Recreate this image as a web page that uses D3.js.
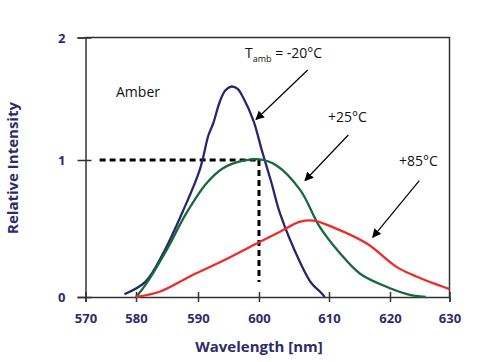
<!DOCTYPE html>
<html>
<head>
<meta charset="utf-8">
<script src="https://cdn.jsdelivr.net/npm/d3@7"></script>
<style>
    body { margin: 0; background: #fff; }
    .tick text { font-family: "Open Sans", sans-serif; font-weight: bold; font-size: 13px; fill: #2e2b6b; }
    .axisTitle { font-family: "Open Sans", sans-serif; font-weight: bold; font-size: 15px; fill: #2e2b6b; }
    .note { font-family: "Open Sans", sans-serif; font-size: 14px; fill: #111; }
</style>
</head>
<body>
<script>
// size of svg
var fullWidth = 500;
var fullHeight = 362;

// tick values
var xTicks = [570, 580, 590, 600, 610, 620, 630];
var yTicks = [0, 1, 2];

// spectra: [wavelength, relative intensity]
var coldCurve = [[577.7, 0.02], [581.5, 0.11], [584.4, 0.32], [587.6, 0.63], [590.3, 0.93],
    [591.7, 1.20], [592.5, 1.30], [593.6, 1.48], [594.5, 1.57], [595.5, 1.60], [596.5, 1.58],
    [597.4, 1.51], [599.1, 1.32], [600.4, 1.08], [601.8, 0.83], [603.0, 0.61],
    [605.9, 0.25], [607.5, 0.10], [608.7, 0.04], [609.4, 0.0]];
var roomCurve = [[580, 0.0], [581.7, 0.10], [584.9, 0.34], [588.1, 0.61], [591.4, 0.83],
    [594.1, 0.94], [597.4, 0.995], [600.1, 1.005], [602.5, 0.96], [605.9, 0.78],
    [608.7, 0.51], [611.8, 0.32], [615.1, 0.17], [620, 0.064], [623, 0.02], [626, 0.0]];
var hotCurve = [[580, 0.0], [583.9, 0.04], [588.7, 0.15], [594.6, 0.275], [599.6, 0.39],
    [603.0, 0.477], [605.9, 0.55], [607.8, 0.557], [610.6, 0.51], [616.2, 0.39],
    [621.1, 0.22], [624.4, 0.15], [630, 0.058]];

// reference lines at 600 nm and intensity 1
var refLevel = 1;
var refWave = 600;

window.onload = function() {
    drawChart();
};

function drawChart() {
/**
* Draws the frame, axes, curves and notes.
*/
    var svg = d3.select("body")
                .append("svg")
                .attr("width", fullWidth)
                .attr("height", fullHeight);

    // tick spacing in the original is not even, so scales are piecewise
    var xScale = d3.scaleLinear()
                   .domain(xTicks)
                   .range([85.5, 136, 198, 259, 329, 390, 449.5]);

    var yScale = d3.scaleLinear()
                   .domain(yTicks)
                   .range([297, 160, 37.5]);

    // frame top and right
    svg.append("path")
       .attr("d", "M" + xScale(570) + "," + yScale(2) + "H" + xScale(630) + "V" + yScale(0))
       .attr("fill", "none")
       .attr("stroke", "#333")
       .attr("stroke-width", 1.5);

    // x axis
    var xAxis = svg.append("g")
       .attr("transform", "translate(0," + yScale(0) + ")")
       .call(d3.axisBottom(xScale).tickValues(xTicks).tickFormat(d3.format("d")).tickSize(5).tickPadding(12));
    xAxis.select(".domain").attr("stroke", "#333").attr("stroke-width", 1.5);
    xAxis.selectAll(".tick line").attr("y1", -5).attr("stroke", "#333").attr("stroke-width", 1.5);

    // y axis
    var yAxis = svg.append("g")
       .attr("transform", "translate(" + xScale(570) + ",0)")
       .call(d3.axisLeft(yScale).tickValues(yTicks).tickFormat(d3.format("d")).tickSize(8).tickPadding(12));
    yAxis.select(".domain").attr("stroke", "#333").attr("stroke-width", 1.5);
    yAxis.selectAll(".tick line").attr("x1", 6).attr("x2", -8).attr("stroke", "#333").attr("stroke-width", 1.5);
    yAxis.selectAll(".tick text").attr("dy", "0.35em");

    // axis titles
    svg.append("text")
       .attr("class", "axisTitle")
       .attr("x", 259)
       .attr("y", 352)
       .attr("text-anchor", "middle")
       .text("Wavelength [nm]");

    svg.append("text")
       .attr("class", "axisTitle")
       .attr("transform", "rotate(-90)")
       .attr("x", -168)
       .attr("y", 18)
       .attr("text-anchor", "middle")
       .text("Relative Intensity");

    // dotted reference lines
    svg.append("line")
       .attr("x1", xScale(572.8)).attr("x2", xScale(refWave))
       .attr("y1", yScale(refLevel)).attr("y2", yScale(refLevel))
       .attr("stroke", "#000").attr("stroke-width", 3).attr("stroke-dasharray", "6,4");
    svg.append("line")
       .attr("x1", xScale(refWave)).attr("x2", xScale(refWave))
       .attr("y1", yScale(refLevel)).attr("y2", yScale(0.11))
       .attr("stroke", "#000").attr("stroke-width", 3).attr("stroke-dasharray", "6,4");

    // spectra
    var line = d3.line()
                 .x(function(d) { return xScale(d[0]); })
                 .y(function(d) { return yScale(d[1]); })
                 .curve(d3.curveCatmullRom);

    var series = [[coldCurve, "#28266f"], [roomCurve, "#17693a"], [hotCurve, "#ee2a2a"]];
    series.forEach(function(s) {
        svg.append("path")
           .attr("d", line(s[0]))
           .attr("fill", "none")
           .attr("stroke", s[1])
           .attr("stroke-width", 2.3);
    });

    // arrow head
    svg.append("defs").append("marker")
       .attr("id", "arrow")
       .attr("viewBox", "0 0 10 10")
       .attr("refX", 9).attr("refY", 5)
       .attr("markerWidth", 9).attr("markerHeight", 9)
       .attr("markerUnits", "userSpaceOnUse")
       .attr("orient", "auto")
       .append("path")
       .attr("d", "M0,0L10,5L0,10z")
       .attr("fill", "#000");

    var arrows = [[307.7, 70, 256, 119.5], [348.3, 135, 305, 180.5], [419.3, 180.7, 372.7, 237.3]];
    arrows.forEach(function(a) {
        svg.append("line")
           .attr("x1", a[0]).attr("y1", a[1])
           .attr("x2", a[2]).attr("y2", a[3])
           .attr("stroke", "#000").attr("stroke-width", 1.2)
           .attr("marker-end", "url(#arrow)");
    });

    // notes
    svg.append("text").attr("class", "note").attr("x", 116).attr("y", 97).text("Amber");

    var t = svg.append("text").attr("class", "note").attr("x", 245).attr("y", 58);
    t.append("tspan").text("T");
    t.append("tspan").attr("font-size", "9px").attr("dy", 4).text("amb");
    t.append("tspan").attr("dy", -4).text(" = -20\u00b0C");

    svg.append("text").attr("class", "note").attr("x", 328).attr("y", 122).text("+25\u00b0C");
    svg.append("text").attr("class", "note").attr("x", 399).attr("y", 166).text("+85\u00b0C");
};
</script>
</body>
</html>
